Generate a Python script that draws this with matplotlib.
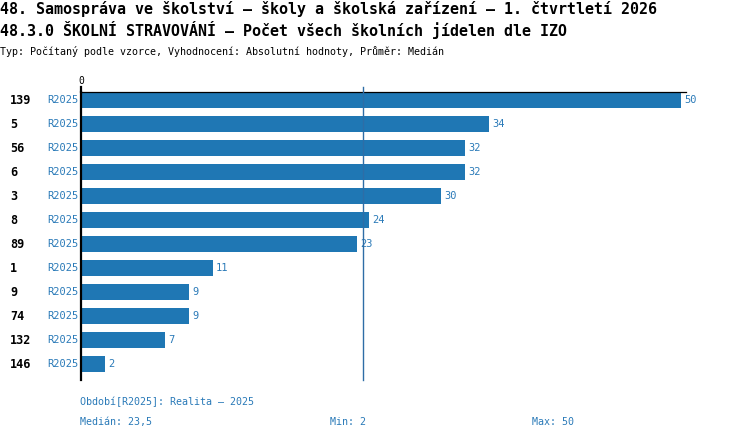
import matplotlib
matplotlib.use("Agg")
import matplotlib.pyplot as plt

categories = ["139", "5", "56", "6", "3", "8", "89", "1", "9", "74", "132", "146"]
period = "R2025"
values = [50, 34, 32, 32, 30, 24, 23, 11, 9, 9, 7, 2]
median = 23.5
vmin = 2
vmax = 50

title1 = "48. Samospráva ve školství – školy a školská zařízení – 1. čtvrtletí 2026"
title2 = "48.3.0 ŠKOLNÍ STRAVOVÁNÍ – Počet všech školních jídelen dle IZO"
subtitle = "Typ: Počítaný podle vzorce, Vyhodnocení: Absolutní hodnoty, Průměr: Medián"
legend1 = "Období[R2025]: Realita – 2025"

BLUE = "#1f77b4"
TXT = "#2a7ab8"
MONO = ["DejaVu Sans Mono"]

W, H = 750, 440
fig = plt.figure(figsize=(W / 100, H / 100), dpi=100)

def fx(px):
    return px / W

def fy(py):
    return 1 - py / H

left_px, right_px, top_px, bot_px = 81, 686, 92, 380
ax = fig.add_axes([fx(left_px), fy(bot_px), fx(right_px) - fx(left_px), fy(top_px) - fy(bot_px)])

scale = 12.0  # px per unit
n = len(values)
ax.set_xlim(0, (right_px - left_px) / scale)
ax.set_ylim(n - 1 + 16 / 24, -8 / 24)

ys = list(range(n))
ax.barh(ys, values, height=16 / 24, color=BLUE, align="center")

for y, v in zip(ys, values):
    ax.text(v + 3 / scale, y, str(v), va="center", ha="left", fontsize=7.5,
            color=TXT, family=MONO)

ax.set_yticks([])
ax.set_xticks([])
for s in ["right", "bottom"]:
    ax.spines[s].set_visible(False)
ax.spines["left"].set_linewidth(1.6)
ax.spines["left"].set_color("black")
ax.spines["top"].set_linewidth(0.9)
ax.spines["top"].set_color("black")

# small tick at 0 above axis
ax.plot([0, 0], [-8 / 24, -8 / 24 - 5 / 24], color="black", lw=1.6, clip_on=False)
ax.text(0, -8 / 24 - 6 / 24, "0", ha="center", va="bottom", fontsize=7, family=MONO, color="black")

# median line
ax.plot([median, median], [n - 1 + 16 / 24, -8 / 24 - 5 / 24], color="#2e6da6", lw=1.0,
        clip_on=False, zorder=3)

# left labels
for y, c in zip(ys, categories):
    ax.text(-71 / scale, y, c, ha="left", va="center", fontsize=8.5, fontweight="bold",
            family=MONO, color="black", clip_on=False)
    ax.text(-3 / scale, y, period, ha="right", va="center", fontsize=7.5,
            family=MONO, color=TXT, clip_on=False)

fig.text(fx(0), fy(9), title1, ha="left", va="center", fontsize=10.8, fontweight="bold", family=MONO)
fig.text(fx(0), fy(30), title2, ha="left", va="center", fontsize=10.8, fontweight="bold", family=MONO)
fig.text(fx(0), fy(51), subtitle, ha="left", va="center", fontsize=7.2, family=MONO)

fig.text(fx(80), fy(402), legend1, ha="left", va="center", fontsize=7.2, family=MONO, color=TXT)
fig.text(fx(80), fy(422), f"Medián: {str(median).replace('.', ',')}", ha="left", va="center",
         fontsize=7.2, family=MONO, color=TXT)
fig.text(fx(330), fy(422), f"Min: {vmin}", ha="left", va="center", fontsize=7.2, family=MONO, color=TXT)
fig.text(fx(532), fy(422), f"Max: {vmax}", ha="left", va="center", fontsize=7.2, family=MONO, color=TXT)

fig.savefig("out.png", dpi=100)
